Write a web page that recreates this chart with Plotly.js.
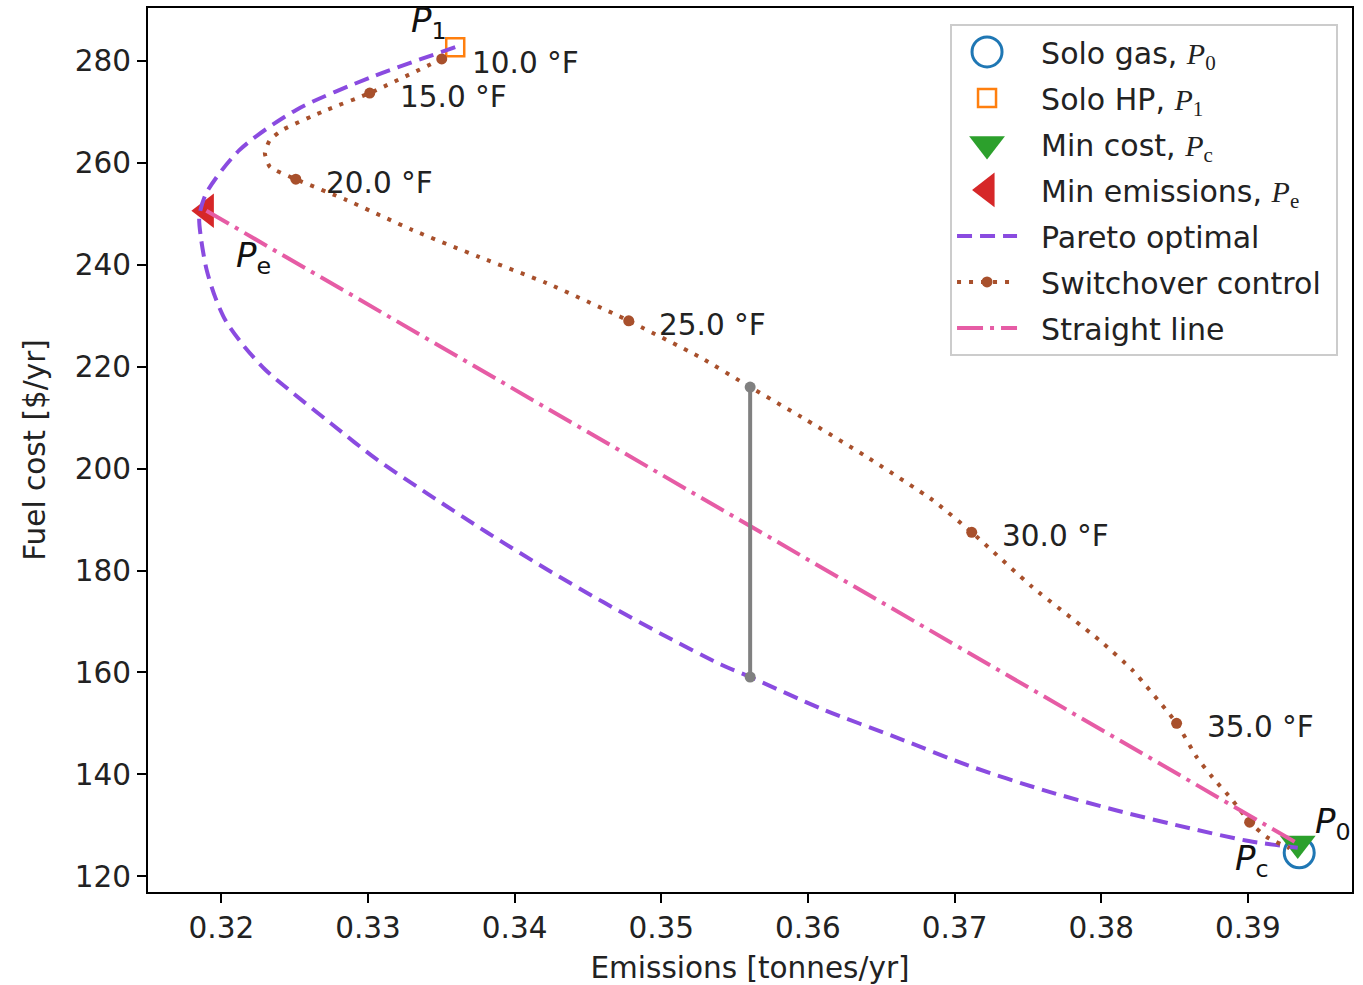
<!DOCTYPE html>
<html>
<head>
<meta charset="utf-8">
<script src="https://cdn.plot.ly/plotly-3.0.1.min.js"></script>
<style>html,body{margin:0;padding:0;background:#fff;}#chart{width:1363px;height:985px;}</style>
</head>
<body>
<div id="chart"></div>
<script>
// ---- data ----
const soloGas = {emis: [0.3935], cost: [124.6]};        // P0
const soloHP = {emis: [0.33595], cost: [282.7]};        // P1
const minCost = {emis: [0.3934], cost: [126.4]};        // Pc
const minEmis = {emis: [0.31898], cost: [250.6]};       // Pe

const paretoEmis = [0.33595, 0.33029, 0.32511, 0.32123, 0.31898, 0.3185, 0.3186, 0.3190, 0.3196, 0.3203, 0.3215, 0.3230, 0.3246, 0.3275, 0.3306, 0.3341, 0.3381, 0.3421, 0.3461, 0.3501, 0.3541, 0.35606, 0.36106, 0.36606, 0.37106, 0.37606, 0.38106, 0.38606, 0.39006, 0.3934];
const paretoCost = [282.7, 276.9, 270.4, 262.5, 254.1, 249.5, 245.5, 239.0, 233.5, 229.0, 224.2, 219.4, 215.5, 208.8, 201.8, 195.0, 187.5, 180.4, 173.7, 167.4, 161.5, 159.1, 152.7, 147.2, 141.6, 136.9, 132.9, 129.4, 126.9, 125.6];

const switchEmis = [0.33503, 0.33012, 0.32719, 0.32419, 0.32331, 0.32297, 0.32331, 0.32508, 0.32855, 0.33305, 0.33762, 0.34219, 0.34669, 0.34778, 0.35262, 0.35606, 0.35992, 0.36401, 0.36851, 0.37117, 0.37532, 0.37989, 0.38214, 0.38514, 0.38650, 0.38759, 0.38896, 0.39012, 0.39128, 0.39284];
const switchCost = [280.4, 273.7, 270.4, 266.5, 264.5, 261.9, 259.2, 256.8, 252.7, 246.8, 241.5, 236.4, 230.5, 229.0, 221.9, 216.0, 209.5, 202.3, 193.8, 187.5, 176.7, 166.3, 160.4, 150.0, 143.4, 139.4, 134.9, 130.6, 127.7, 125.5];
// null = no marker, '' = marker without text
const switchLabel = ['10.0 °F', '15.0 °F', null, null, null, null, null, '20.0 °F', null, null, null, null, null, '25.0 °F', null, null, null, null, null, '30.0 °F', null, null, null, '35.0 °F', null, null, null, '', null, null];

const straightEmis = [0.31898, 0.3934];
const straightCost = [250.6, 126.4];

const gapEmis = [0.35606, 0.35606];
const gapCost = [159.1, 216.0];

const xTicks = [0.32, 0.33, 0.34, 0.35, 0.36, 0.37, 0.38, 0.39];
const xTickText = ['0.32', '0.33', '0.34', '0.35', '0.36', '0.37', '0.38', '0.39'];
const yTicks = [120, 140, 160, 180, 200, 220, 240, 260, 280];

// ---- styles ----
const FONT = 'DejaVu Sans, sans-serif';
const SERIF = "Liberation Serif, serif";
const BROWN = '#a8502c';
const PAD = '&nbsp;&nbsp;';
const TAIL = '&nbsp;';
const sub = (s) => `<span style="font-family:${SERIF}"><i>P</i><sub>${s}</sub></span>`;

const switchColors = switchLabel.map(l => l === null ? 'rgba(0,0,0,0)' : BROWN);

const traces = [
  {x: soloGas.emis, y: soloGas.cost, mode: 'markers', name: PAD + 'Solo gas, ' + sub('0'),
   marker: {symbol: 'circle-open', size: 30, color: '#1f77b4', line: {width: 3, color: '#1f77b4'}}},
  {x: soloHP.emis, y: soloHP.cost, mode: 'markers', name: PAD + 'Solo HP, ' + sub('1'),
   marker: {symbol: 'square-open', size: 18, color: '#ff7f0e', line: {width: 2.5, color: '#ff7f0e'}}},
  {x: minCost.emis, y: minCost.cost, mode: 'markers', name: PAD + 'Min cost, ' + sub('c'),
   marker: {symbol: 'triangle-down', size: 31, color: '#2ca02c'}},
  {x: minEmis.emis, y: minEmis.cost, mode: 'markers', name: PAD + 'Min emissions, ' + sub('e'),
   marker: {symbol: 'triangle-left', size: 30, color: '#d62728'}},
  {x: paretoEmis, y: paretoCost, mode: 'lines', name: PAD + 'Pareto optimal',
   line: {color: '#8a4be0', width: 4, dash: '15px,8px', shape: 'spline', smoothing: 0.8}},
  {x: switchEmis, y: switchCost, mode: 'lines+markers', name: PAD + 'Switchover control' + TAIL,
   line: {color: BROWN, width: 4, dash: '4px,8px', shape: 'spline', smoothing: 0.5},
   marker: {size: 11, color: switchColors}},
  {x: straightEmis, y: straightCost, mode: 'lines', name: PAD + 'Straight line',
   line: {color: '#e65ca5', width: 4, dash: '26px,7px,4px,7px'}},
  {x: gapEmis, y: gapCost, mode: 'lines+markers', showlegend: false,
   line: {color: '#808080', width: 4}, marker: {size: 11, color: '#808080'}}
];
traces.forEach((t, i) => { t.legendgroup = 'g' + i; });
const legendMarkerSizes = [30, 18, 31, 30];

const annotations = [];
switchLabel.forEach((l, i) => {
  if (l) annotations.push({x: switchEmis[i], y: switchCost[i], text: l, showarrow: false,
    xanchor: 'left', yanchor: 'middle', xshift: 28, yshift: -4,
    font: {family: FONT, size: 29.5, color: '#222'}});
});
const pFont = {family: FONT, size: 34, color: '#111'};
const pLab = (s) => `<i>P</i><sub>${s}</sub>`;
annotations.push({x: soloHP.emis[0], y: soloHP.cost[0], text: pLab('1'), showarrow: false, xshift: -26, yshift: 25, font: pFont});
annotations.push({x: minEmis.emis[0], y: minEmis.cost[0], text: pLab('e'), showarrow: false, xshift: 47, yshift: -47, font: pFont});
annotations.push({x: soloGas.emis[0], y: soloGas.cost[0], text: pLab('0'), showarrow: false, xshift: 34, yshift: 29, font: pFont});
annotations.push({x: minCost.emis[0], y: minCost.cost[0], text: pLab('c'), showarrow: false, xshift: -46, yshift: -17, font: pFont});

const axisCommon = {
  showline: true, mirror: true, linecolor: '#000', linewidth: 2,
  ticks: 'outside', ticklen: 9, tickwidth: 2, tickcolor: '#000',
  showgrid: false, zeroline: false,
  tickfont: {family: FONT, size: 29.5, color: '#222'}
};

const layout = {
  width: 1363, height: 985,
  margin: {l: 148, r: 11, t: 8, b: 93},
  paper_bgcolor: '#fff', plot_bgcolor: '#fff',
  showlegend: true,
  xaxis: Object.assign({}, axisCommon, {
    range: [0.3150, 0.3971], tickmode: 'array', tickvals: xTicks, ticktext: xTickText,
    title: {text: 'Emissions [tonnes/yr]', font: {family: FONT, size: 29.5, color: '#222'}, standoff: 13}
  }),
  yaxis: Object.assign({}, axisCommon, {
    range: [116.9, 290.4], tickmode: 'array', tickvals: yTicks,
    title: {text: 'Fuel cost [$/yr]', font: {family: FONT, size: 29.5, color: '#222'}, standoff: 20}
  }),
  legend: {
    x: 0.9884, y: 0.982, xanchor: 'right', yanchor: 'top',
    bgcolor: 'rgba(255,255,255,0.85)', bordercolor: '#cccccc', borderwidth: 2,
    font: {family: FONT, size: 30, color: '#222'},
    itemwidth: 60, tracegroupgap: 4, traceorder: 'grouped'
  },
  annotations: annotations
};

Plotly.newPlot('chart', traces, layout, {displayModeBar: false, staticPlot: true}).then(gd => {
  // enlarge legend marker symbols to match plot marker sizes (legend caps them at 16px)
  const items = gd.querySelectorAll('.legend .traces');
  items.forEach((item, i) => {
    const s = legendMarkerSizes[i];
    if (!s) return;
    item.querySelectorAll('.legendpoints path.scatterpts').forEach(p => {
      const tr = p.getAttribute('transform') || '';
      p.setAttribute('transform', tr + ' scale(' + (s / 16) + ')');
      p.style.vectorEffect = 'non-scaling-stroke';
    });
  });
});
</script>
</body>
</html>
